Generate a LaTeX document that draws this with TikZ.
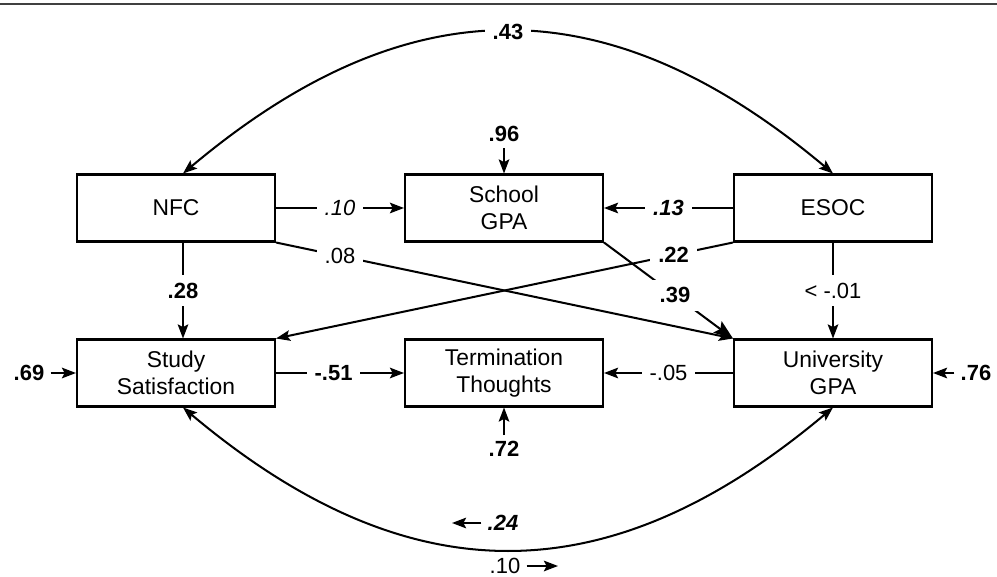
\documentclass[tikz,border=0pt]{standalone}
\usepackage{fontspec}
\setmainfont{Liberation Sans}
\usetikzlibrary{arrows.meta}

\begin{document}
\begin{tikzpicture}[x=0.02cm,y=-0.02cm,line width=1.15pt,
    >={Stealth[length=8pt,width=6pt,inset=1.5pt]}]
    \tikzstyle{box}=[draw, minimum width=3.96cm, minimum height=1.34cm, inner sep=0pt,
        align=center, font=\fontsize{13}{15.5}\selectfont]
    \tikzstyle{coef}=[fill=white, inner sep=4.5pt, font=\fontsize{12.5}{14}\selectfont]
    \tikzstyle{txt}=[inner sep=3pt, font=\fontsize{12.5}{14}\selectfont]
    \tikzstyle{err}=[txt, font=\fontsize{12.5}{14}\selectfont\bfseries]

    \useasboundingbox (0,0) rectangle (997,577);
    \draw[black!75, line width=0.8pt] (0,4) -- (997,4);

    % measured variables
    \node[box] (nfc)    at (176,208) {NFC};
    \node[box] (school) at (504,208) {School\\GPA};
    \node[box] (esoc)   at (833,208) {ESOC};
    \node[box] (study)  at (176,373) {Study\\Satisfaction};
    \node[box] (term)   at (504,373) {Termination\\Thoughts};
    \node[box] (ugpa)   at (833,373) {University\\GPA};

    % residuals
    \node[err] (e96) at (504,134) {.96};
    \node[err] (e72) at (504,449) {.72};
    \node[err] (e69) at (29,373)  {.69};
    \node[err] (e76) at (976,373) {.76};
    \draw[->] (e96) -- (school);
    \draw[->] (e72) -- (term);
    \draw[->] (e69) -- (study);
    \draw[->] (e76) -- (ugpa);

    % paths
    \draw[->] (nfc) -- node[coef] {\textit{.10}} (school);
    \draw[->] (esoc) -- node[coef] {\textbf{\textit{.13}}} (school);
    \draw[->] ([xshift=0.14cm]nfc.south) -- node[coef] {\textbf{.28}} ([xshift=0.14cm]study.north);
    \draw[->] (esoc) -- node[coef] {< -.01} (ugpa);
    \draw[->] (nfc.south east) -- node[coef,pos=0.14] {.08} (ugpa.north west);
    \draw[->] (esoc.south west) -- node[coef,pos=0.13] {\textbf{.22}} (study.north east);
    \draw[-{Stealth[length=11pt,width=8pt,inset=2pt]}] (school.south east)
        -- node[coef,pos=0.55] {\textbf{.39}} (ugpa.north west);
    \draw[->] (study) -- node[coef,pos=0.45] {\textbf{-.51}} (term);
    \draw[->] (ugpa) -- node[coef] {-.05} (term);

    % correlations
    \draw[<->] ([xshift=0.14cm]nfc.north) .. controls +(225,-189) and +(-225,-189) .. (esoc.north)
        node[coef,pos=0.5] {\textbf{.43}};
    \draw[<->] ([xshift=0.14cm]study.south) .. controls +(225,189) and +(-225,189) .. (ugpa.south);

    \node[txt] (r24) at (503,523) {\textbf{\textit{.24}}};
    \node[txt] (r10) at (505,566) {.10};
    \coordinate (r24tip) at (452,523);
    \coordinate (r10tip) at (558,566);
    \draw[->] (r24) -- (r24tip);
    \draw[->] (r10) -- (r10tip);
\end{tikzpicture}
\end{document}
